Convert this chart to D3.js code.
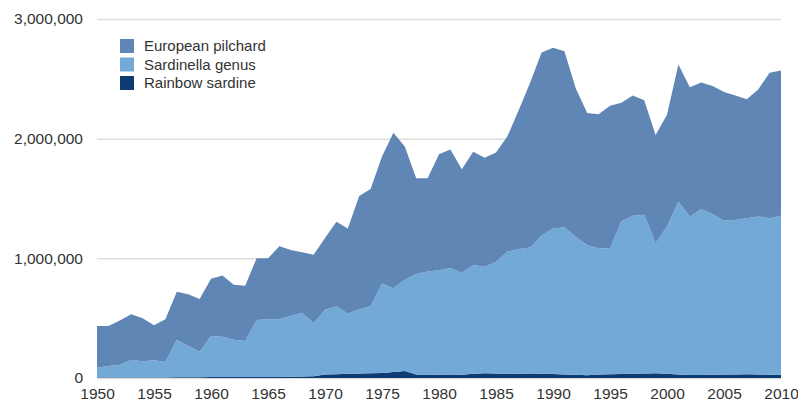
<!DOCTYPE html>
<html>
<head>
<meta charset="utf-8">
<script src="https://cdn.jsdelivr.net/npm/d3@7"></script>
<style>
  html, body { margin: 0; padding: 0; background: #fff; }
  svg { display: block; font-family: "Liberation Sans", Arial, Helvetica, sans-serif; }
</style>
</head>
<body>
<svg id="chart" width="798" height="405"></svg>
<script>
const years = d3.range(1950, 2011);

const europeanPilchard = [
  349000, 335000, 370000, 380000, 360000, 292000, 356000, 400000, 430000, 440000,
  480000, 511000, 460000, 460000, 515000, 510000, 610000, 550000, 504000, 573000,
  600000, 708000, 710000, 945000, 980000, 1060000, 1300000, 1115000, 800000, 780000,
  970000, 990000, 865000, 945000, 910000, 915000, 963000, 1163000, 1380000, 1530000,
  1510000, 1470000, 1240000, 1105000, 1120000, 1191000, 990000, 1004000, 956000, 903000,
  934000, 1145000, 1080000, 1060000, 1070000, 1076000, 1040000, 994000, 1060000, 1214000,
  1214000
];

const sardinellaGenus = [
  81000, 95000, 105000, 148000, 135000, 143000, 129000, 314000, 264000, 214000,
  342000, 337000, 312000, 302000, 477000, 482000, 482000, 510000, 534000, 442000,
  540000, 565000, 505000, 537000, 560000, 748000, 700000, 762000, 840000, 865000,
  872000, 890000, 852000, 910000, 890000, 932000, 1024000, 1042000, 1052000, 1154000,
  1217000, 1230000, 1152000, 1088000, 1055000, 1053000, 1277000, 1321000, 1326000, 1087000,
  1230000, 1445000, 1325000, 1385000, 1342000, 1284000, 1290000, 1304000, 1320000, 1308000,
  1328000
];

const rainbowSardine = [
  5000, 5000, 5000, 5000, 5000, 5000, 5000, 6000, 6000, 6000,
  8000, 8000, 8000, 8000, 8000, 8000, 8000, 10000, 12000, 15000,
  30000, 32000, 35000, 38000, 40000, 42000, 50000, 58000, 30000, 25000,
  28000, 30000, 28000, 35000, 40000, 38000, 33000, 35000, 38000, 36000,
  33000, 30000, 28000, 22000, 30000, 32000, 33000, 35000, 38000, 40000,
  36000, 30000, 25000, 25000, 28000, 30000, 30000, 32000, 30000, 28000,
  28000
];

const seriesNames = ["Rainbow sardine", "Sardinella genus", "European pilchard"];
const legendOrder = ["European pilchard", "Sardinella genus", "Rainbow sardine"];
const yTicks = [0, 1000000, 2000000, 3000000];
const xTicks = [1950, 1955, 1960, 1965, 1970, 1975, 1980, 1985, 1990, 1995, 2000, 2005, 2010];

const colors = {
  "European pilchard": "#5f86b4",
  "Sardinella genus": "#72a9d7",
  "Rainbow sardine": "#0c3c72"
};

const rows = years.map((y, i) => ({
  year: y,
  "European pilchard": europeanPilchard[i],
  "Sardinella genus": sardinellaGenus[i],
  "Rainbow sardine": rainbowSardine[i]
}));

const svg = d3.select("#chart");
const margin = { left: 97, right: 17, top: 19, bottom: 27 };
const W = 798, H = 405;

const x = d3.scaleLinear().domain([1950, 2010]).range([margin.left, W - margin.right]);
const y = d3.scaleLinear().domain([0, 3000000]).range([H - margin.bottom, margin.top]);

// gridlines
svg.append("g").selectAll("line").data(yTicks).join("line")
  .attr("x1", margin.left).attr("x2", W - margin.right)
  .attr("y1", d => y(d) + 0.5).attr("y2", d => y(d) + 0.5)
  .attr("stroke", "#dedede").attr("stroke-width", 1.5);

const stack = d3.stack().keys(seriesNames);
const layers = stack(rows);

const area = d3.area()
  .x(d => x(d.data.year))
  .y0(d => y(d[0]))
  .y1(d => y(d[1]));

svg.append("g").selectAll("path").data(layers).join("path")
  .attr("fill", d => colors[d.key])
  .attr("d", area);

const textFill = "#333";

// y axis labels
const yAxis = d3.axisLeft(y).tickValues(yTicks).tickSize(0).tickPadding(0)
  .tickFormat(d3.format(","));
const gy = svg.append("g").attr("transform", `translate(${margin.left - 14},0)`).call(yAxis);
gy.select(".domain").remove();
gy.selectAll("text").attr("font-size", 15.5).attr("fill", textFill)
  .attr("font-family", "'Liberation Sans', Arial, sans-serif");

// x axis labels
const xAxis = d3.axisBottom(x).tickValues(xTicks).tickSize(0).tickPadding(0)
  .tickFormat(d3.format("d"));
const gx = svg.append("g").attr("transform", `translate(0,${H - margin.bottom + 10})`).call(xAxis);
gx.select(".domain").remove();
gx.selectAll("text").attr("font-size", 15.5).attr("fill", textFill)
  .attr("font-family", "'Liberation Sans', Arial, sans-serif");

// legend
const legend = svg.append("g").attr("transform", "translate(120,39)");
const li = legend.selectAll("g").data(legendOrder).join("g")
  .attr("transform", (d, i) => `translate(0,${i * 18.5})`);
li.append("rect").attr("width", 14).attr("height", 14).attr("fill", d => colors[d]);
li.append("text").attr("x", 24).attr("y", 7).attr("dy", "0.35em")
  .attr("font-size", 15).attr("fill", textFill).text(d => d);
</script>
</body>
</html>
